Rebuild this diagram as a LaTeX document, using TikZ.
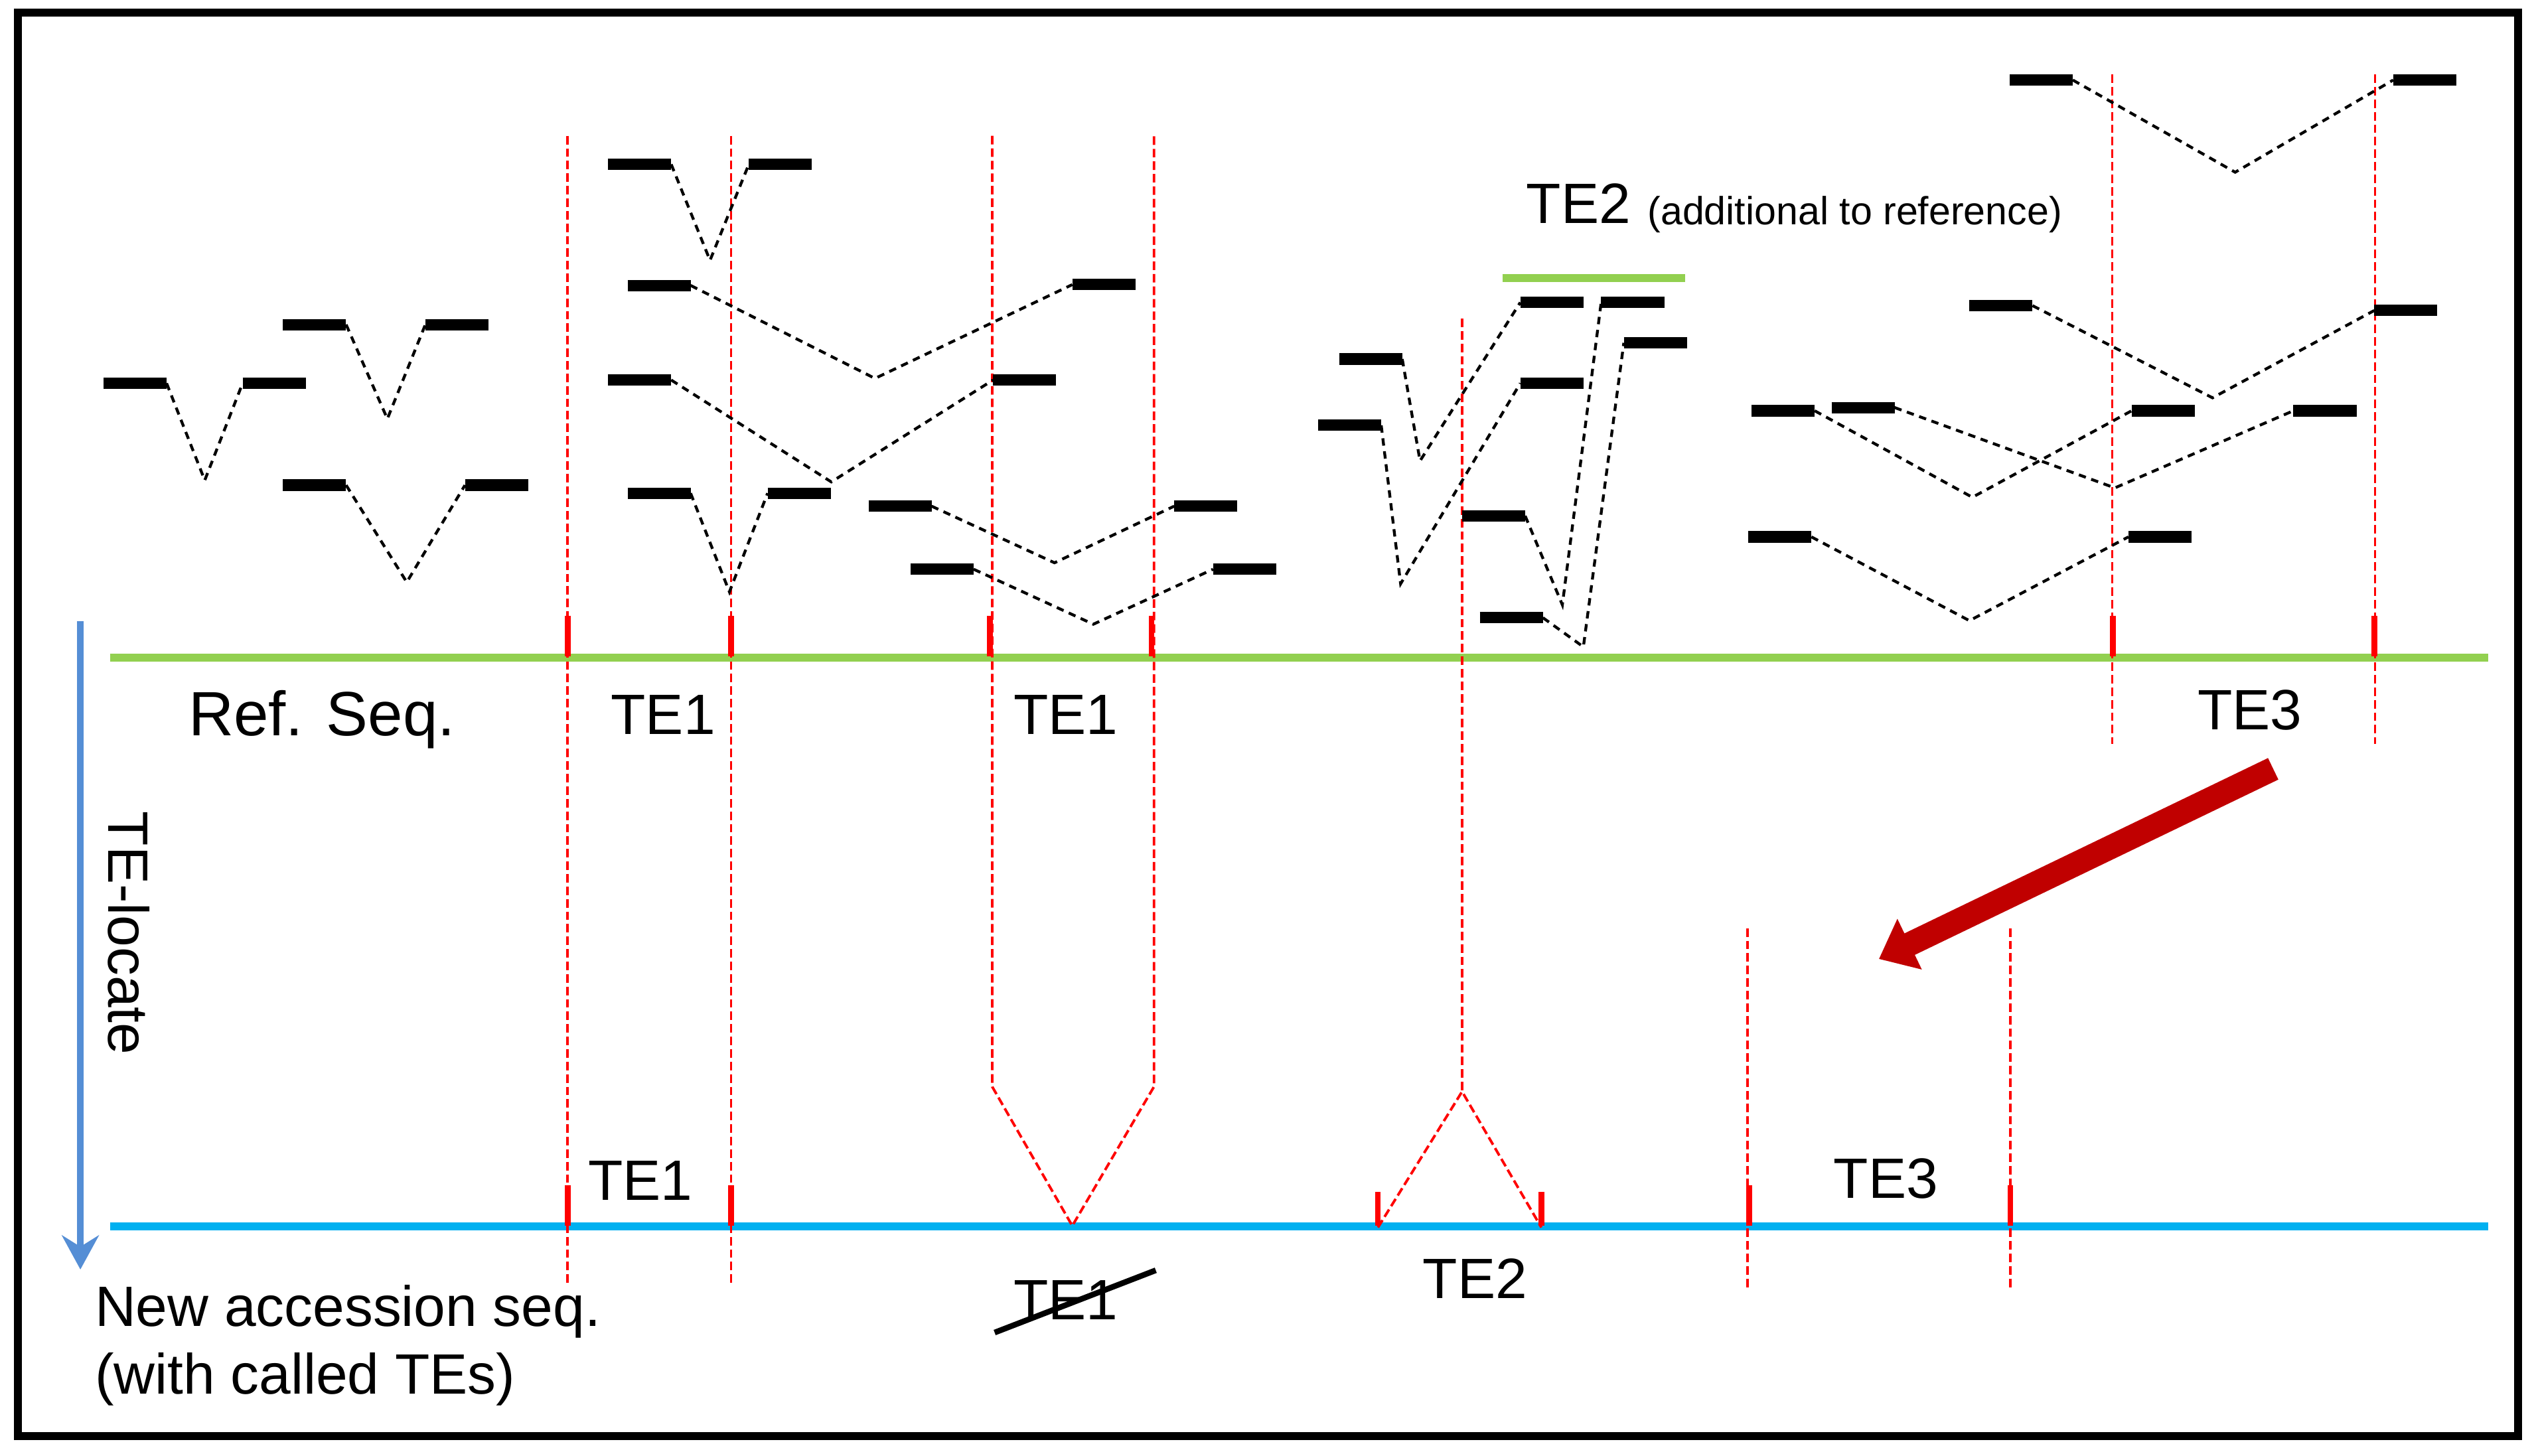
\documentclass[tikz,border=0pt]{standalone}
\usepackage{fontspec}
\setmainfont{Liberation Sans}
\usetikzlibrary{arrows.meta}

\begin{document}
\begin{tikzpicture}
[x = 0.01cm, y = -0.01cm, line cap = butt,
read bar/.style = {line width = 2pt},
split line/.style = {dash pattern = on 1.3pt off 1pt, line width = 0.5pt},
te border/.style = {tered, line width = 0.45pt, dash pattern = on 1.5pt off 0.7pt},
te tick/.style = {tered, line width = 1pt},
seq line/.style = {line width = 1.4pt},
label text/.style = {font = \fontsize{10}{12}\selectfont, inner sep = 0pt, anchor = base},
locate arrow/.style = {-{Stealth[length = 6pt, width = 6.5pt, inset = 2pt]}, line width = 1.2pt, locateblue},
shift arrow/.style = {-{Triangle[length = 6pt, width = 9.5pt]}, line width = 4.2pt, arrowred}]

\definecolor{refgreen}{HTML}{92D050}
\definecolor{newblue}{HTML}{00B0F0}
\definecolor{locateblue}{HTML}{558ED5}
\definecolor{arrowred}{HTML}{C00000}
\colorlet{tered}{red}

\useasboundingbox (0, 0) rectangle (1568, 900);
\draw[line width = 1.4pt] (11, 8) rectangle (1557, 888);

\draw[seq line, refgreen] (68, 406.5) -- (1538.5, 406.5);
\draw[seq line, newblue] (68, 758.5) -- (1538.5, 758.5);
\draw[seq line, refgreen] (929, 172) -- (1042, 172);

\foreach \x/\ya/\yb in {351/84/795, 452/84/795, 1306/46/460, 1468.5/46/460, 1080.5/574/796, 1243/574/796}
\draw[te border] (\x, \ya) -- (\x, \yb);
\draw[te border] (613.5, 84) -- (613.5, 672) -- (663, 758) -- (713.5, 672) -- (713.5, 84);
\draw[te border] (904, 197) -- (904, 675);
\draw[te border] (852, 759) -- (904, 675) -- (953, 759);

\foreach \x in {351, 452, 612, 712, 1306.5, 1468} \draw[te tick] (\x, 381) -- (\x, 406);
\foreach \x/\ya in {351/733, 452/733, 852/737, 953/737, 1081.5/733, 1243/733} \draw[te tick] (\x, \ya) -- (\x, 758);

\foreach \lx/\ly/\vx/\vy/\rx/\ry in {64/237/126.6/297/150/237, 175/200.7/239.5/259/263/200.7, 175/300/251.5/360/287.5/300,
376/101.6/439/161/463/101.6, 388/176.5/541/234/663/176, 376/235/514/298/614/235, 388/305/451/366/474.6/305,
537/313/652/348/726/313, 563/352/676/386/750/352,
828/222/878/285/940/187, 815/263/866/361/940/237, 904/319/966/374/990/187, 915/382/979/400/1004/212,
1242.6/49.5/1382/106.5/1479.7/49.5, 1217.7/189/1368/246/1468/192, 1083/254/1219.5/307.5/1318/254,
1132.4/252/1307.6/301.7/1418/254, 1081/332/1217.7/383.8/1316/332}
{
\draw[split line] (\lx + 39, \ly) -- (\vx, \vy) -- (\rx, \ry);
\draw[read bar] (\lx, \ly) -- +(39, 0);
\draw[read bar] (\rx, \ry) -- +(39, 0);
}

\node[label text, font = \fontsize{11}{13}\selectfont] (ref label) at (199, 455) {Ref. Seq.};
\node[label text] (te1 ref a) at (410, 454) {TE1};
\node[label text] (te1 ref b) at (659, 454) {TE1};
\node[label text] (te3 ref) at (1391, 451) {TE3};
\node[label text, anchor = base west] (te2 extra) at (943, 138) {TE2};
\node[label text, anchor = base west, font = \fontsize{6.9}{8}\selectfont] (te2 note) at (1018, 139) {(additional to reference)};

\node[label text] (te1 new) at (396, 742) {TE1};
\node[label text] (te3 new) at (1166, 741) {TE3};
\node[label text] (te2 new) at (912, 803) {TE2};
\node[label text] (te1 lost) at (659, 816) {TE1};
\draw[line width = 1pt] (615, 824) -- (714.6, 785.5);

\node[label text, anchor = base west] (new label) at (58, 820) {New accession seq.};
\node[label text, anchor = base west] (called label) at (58, 862) {(with called TEs)};
\node[label text, anchor = center, rotate = -90] (locate label) at (79.5, 577) {TE-locate};

\draw[locate arrow] (49.7, 384) -- (49.7, 785);
\draw[shift arrow] (1405.5, 475.4) -- (1161.7, 593);
\end{tikzpicture}
\end{document}
